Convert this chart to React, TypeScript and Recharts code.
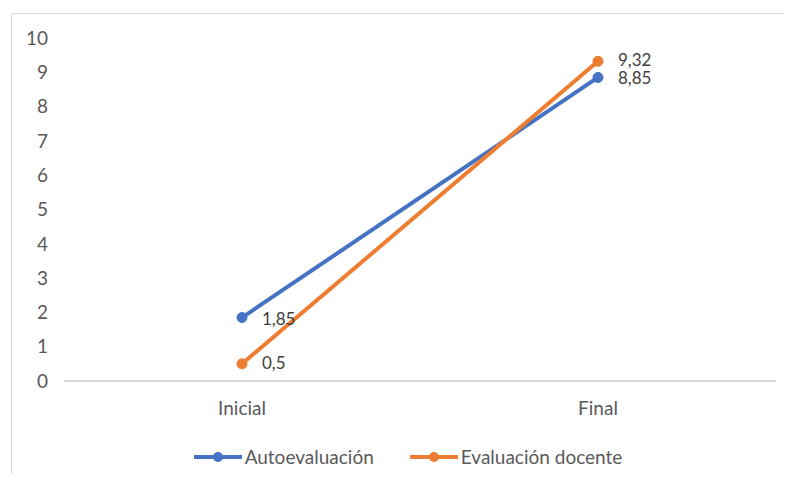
import React from 'react';
import { LineChart, Line, XAxis, YAxis, LabelList } from 'recharts';

const categories = ['Inicial', 'Final'];
const autoevaluacion = [1.85, 8.85];
const evaluacionDocente = [0.5, 9.32];
const yTicks = [0, 1, 2, 3, 4, 5, 6, 7, 8, 9, 10];

const BLUE = '#4472C4';
const ORANGE = '#ED7D31';
const FONT = 'Lato, "Open Sans", sans-serif';
const FS = 19;

const data = categories.map((name, i) => ({
  name,
  auto: autoevaluacion[i],
  docente: evaluacionDocente[i],
}));

const fmt = (v: any) => String(v).replace('.', ',');

const LegendContent = () => {
  const items = [
    { label: 'Autoevaluación', color: BLUE },
    { label: 'Evaluación docente', color: ORANGE },
  ];
  return (
    <div style={{ display: 'flex', justifyContent: 'center', gap: 36, paddingLeft: 24, fontFamily: FONT, fontSize: FS, color: '#595959' }}>
      {items.map(it => (
        <div key={it.label} style={{ display: 'flex', alignItems: 'center' }}>
          <svg width={48} height={12} style={{ marginRight: 3 }}>
            <line x1={0} y1={6} x2={48} y2={6} stroke={it.color} strokeWidth={4} />
            <circle cx={24} cy={6} r={5} fill={it.color} />
          </svg>
          <span>{it.label}</span>
        </div>
      ))}
    </div>
  );
};

export default function App() {
  return (
    <div style={{ position: 'relative', width: 792, height: 482, margin: -8, overflow: 'hidden', background: '#fff' }}>
      <div style={{ position: 'absolute', left: 11, top: 13, width: 820, height: 520, border: '1px solid #d9d9d9' }} />
      <div style={{ position: 'absolute', left: 0, top: 0 }}>
        <LineChart width={792} height={482} data={data} margin={{ top: 38, right: 16, bottom: 61, left: 0 }}>
          <XAxis
            dataKey="name"
            axisLine={{ stroke: '#d9d9d9', strokeWidth: 2 }}
            tickLine={false}
            tickMargin={15}
            padding={{ left: 178, right: 178 }}
            tick={{ fill: '#595959', fontSize: FS, fontFamily: FONT }}
            height={40}
          />
          <YAxis
            domain={[0, 10]}
            ticks={yTicks}
            axisLine={false}
            tickLine={false}
            tickMargin={10}
            width={64}
            tick={{ fill: '#595959', fontSize: FS, fontFamily: FONT }}
            interval={0}
          />
          <Line
            dataKey="auto"
            stroke={BLUE}
            strokeWidth={4}
            dot={{ r: 5, fill: BLUE, stroke: BLUE, strokeWidth: 1 }}
            isAnimationActive={false}
          >
            <LabelList dataKey="auto" position="right" offset={20} formatter={fmt} fill="#404040" fontSize={17} fontFamily={FONT} dy={1} />
          </Line>
          <Line
            dataKey="docente"
            stroke={ORANGE}
            strokeWidth={4}
            dot={{ r: 5, fill: ORANGE, stroke: ORANGE, strokeWidth: 1 }}
            isAnimationActive={false}
          >
            <LabelList dataKey="docente" position="right" offset={20} formatter={fmt} fill="#404040" fontSize={17} fontFamily={FONT} dy={-1} />
          </Line>
        </LineChart>
      </div>
      <div style={{ position: 'absolute', left: 0, top: 445, width: 792 }}>
        <LegendContent />
      </div>
    </div>
  );
}
